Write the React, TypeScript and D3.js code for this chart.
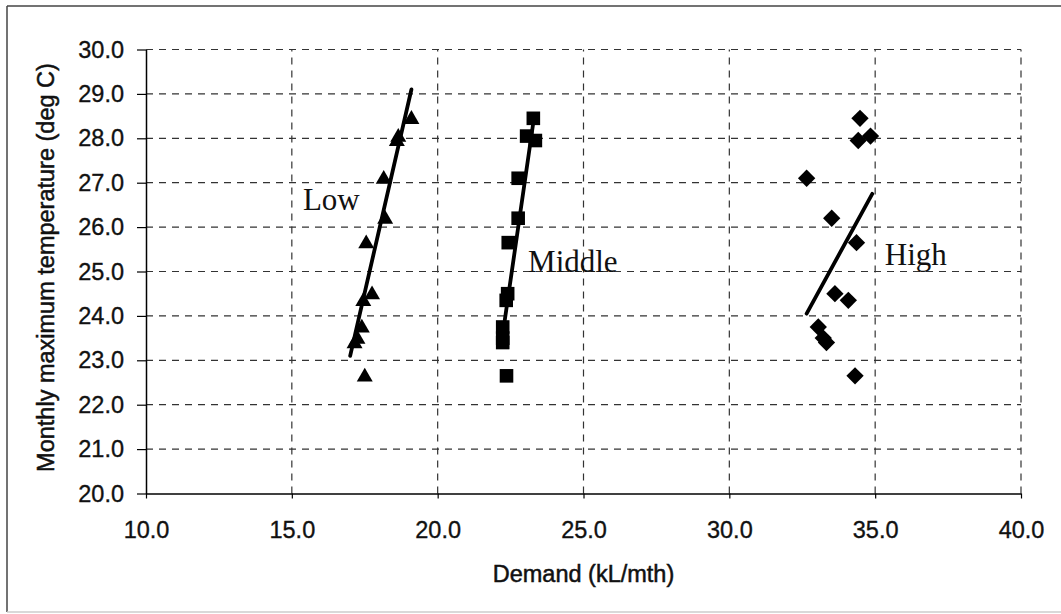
import { useEffect, useRef } from "react";
import * as d3 from "d3";

// monthly max temperature (deg C), shared by the three demand groups
const temps = [28.45, 28.05, 27.95, 27.1, 26.2, 25.65, 24.5, 24.35, 23.75, 23.5, 23.4, 22.65];
const lowDemand = [19.1, 18.65, 18.6, 18.15, 18.2, 17.55, 17.75, 17.45, 17.4, 17.25, 17.15, 17.5];
const middleDemand = [23.28, 23.05, 23.35, 22.76, 22.76, 22.42, 22.4, 22.35, 22.23, 22.23, 22.23, 22.36];
const highDemand = [34.48, 34.84, 34.42, 32.65, 33.51, 34.36, 33.62, 34.08, 33.05, 33.22, 33.33, 34.31];

// trend line end points
const lowTrendDemand = [17.0, 19.1];
const lowTrendTemp = [23.1, 29.1];
const middleTrendDemand = [22.3, 23.3];
const middleTrendTemp = [23.9, 28.45];
const highTrendDemand = [32.65, 34.9];
const highTrendTemp = [24.05, 26.75];

const labelNames = ["Low", "Middle", "High"];
const labelDemand = [15.38, 23.1, 35.33];
const labelTemp = [26.38, 24.99, 25.15];

const xTicks = [10, 15, 20, 25, 30, 35, 40];
const yTicks = [20, 21, 22, 23, 24, 25, 26, 27, 28, 29, 30];

const W = 1061;
const H = 614;

const Chart = () => {
    const svgRef = useRef<SVGSVGElement>(null);

    useEffect(() => {
        const svg = d3.select(svgRef.current);
        svg.selectAll("*").remove();

        const x = d3.scaleLinear().domain([10, 40]).range([146, 1021]);
        const y = d3.scaleLinear().domain([20, 30]).range([493.5, 49.5]);
        const fmt = d3.format(".1f");
        const sans = "Liberation Sans, Arial, sans-serif";

        svg.append("rect").attr("width", W).attr("height", H).attr("fill", "#fff");

        // outer frame
        svg.append("line").attr("x1", 7).attr("x2", W).attr("y1", 6).attr("y2", 6)
            .attr("stroke", "#444").attr("stroke-width", 1.5);
        svg.append("line").attr("x1", 7).attr("x2", 7).attr("y1", 6).attr("y2", 612)
            .attr("stroke", "#444").attr("stroke-width", 1.5);
        svg.append("line").attr("x1", 7).attr("x2", W).attr("y1", 612).attr("y2", 612)
            .attr("stroke", "#ccc").attr("stroke-width", 1.5);

        // grid
        const grid = svg.append("g").attr("stroke", "#333").attr("stroke-width", 1.2)
            .attr("stroke-dasharray", "7,6");
        grid.selectAll("line.h").data(yTicks.slice(1)).join("line")
            .attr("x1", x(10)).attr("x2", x(40))
            .attr("y1", d => y(d)).attr("y2", d => y(d));
        grid.selectAll("line.v").data(xTicks.slice(1)).join("line")
            .attr("y1", y(20)).attr("y2", y(30))
            .attr("x1", d => x(d)).attr("x2", d => x(d));

        // axes
        const yAxis = svg.append("g")
            .attr("transform", `translate(${x(10)},0)`)
            .call(d3.axisLeft(y).tickValues(yTicks).tickFormat(d => fmt(d as number))
                .tickSize(9).tickSizeOuter(0).tickPadding(13));
        const xAxis = svg.append("g")
            .attr("transform", `translate(0,${y(20)})`)
            .call(d3.axisBottom(x).tickValues(xTicks).tickFormat(d => fmt(d as number))
                .tickSize(5).tickSizeOuter(0).tickPadding(23));
        [yAxis, xAxis].forEach(a => {
            a.select(".domain").attr("stroke", "#000").attr("stroke-width", 1.5);
            a.selectAll(".tick line").attr("stroke", "#000").attr("stroke-width", 1.2);
            a.selectAll("text").attr("fill", "#111")
                .attr("stroke", "#111").attr("stroke-width", 0.35)
                .attr("font-family", sans).attr("font-size", 23.5);
        });

        // axis titles
        svg.append("text")
            .attr("x", (x(10) + x(40)) / 2).attr("y", 582)
            .attr("text-anchor", "middle")
            .attr("font-family", sans).attr("font-size", 23.5)
            .attr("fill", "#111").attr("stroke", "#111").attr("stroke-width", 0.5)
            .text("Demand (kL/mth)");
        svg.append("text")
            .attr("transform", `translate(54,${(y(20) + y(30)) / 2 - 4}) rotate(-90)`)
            .attr("text-anchor", "middle")
            .attr("font-family", sans).attr("font-size", 23.5)
            .attr("fill", "#111").attr("stroke", "#111").attr("stroke-width", 0.5)
            .text("Monthly maximum temperature (deg C)");

        // trend lines
        const line = d3.line<[number, number]>().x(d => x(d[0])).y(d => y(d[1]));
        const trends: [number[], number[]][] = [
            [lowTrendDemand, lowTrendTemp],
            [middleTrendDemand, middleTrendTemp],
            [highTrendDemand, highTrendTemp],
        ];
        trends.forEach(([dx, ty]) => {
            svg.append("path")
                .datum(dx.map((v, i) => [v, ty[i]] as [number, number]))
                .attr("fill", "none").attr("stroke", "#000").attr("stroke-width", 3.8)
                .attr("stroke-linecap", "round")
                .attr("d", line);
        });

        // markers
        const series: { demand: number[]; symbol: d3.SymbolType; size: number; rot: number; dy: number }[] = [
            { demand: lowDemand, symbol: d3.symbolTriangle, size: 110, rot: 0, dy: 1 },
            { demand: middleDemand, symbol: d3.symbolSquare, size: 185, rot: 0, dy: 0 },
            { demand: highDemand, symbol: d3.symbolSquare, size: 150, rot: 45, dy: 0 },
        ];
        series.forEach(s => {
            const path = d3.symbol().type(s.symbol).size(s.size)();
            svg.append("g").selectAll("path").data(s.demand).join("path")
                .attr("d", path)
                .attr("fill", "#000")
                .attr("transform", (d, i) => `translate(${x(d)},${y(temps[i]) + s.dy}) rotate(${s.rot})`);
        });

        // group labels
        svg.append("g").selectAll("text").data(labelNames).join("text")
            .attr("x", (d, i) => x(labelDemand[i]))
            .attr("y", (d, i) => y(labelTemp[i]))
            .attr("font-family", "Liberation Serif, Times New Roman, serif")
            .attr("font-size", 31)
            .attr("fill", "#111")
            .text(d => d);
    }, []);

    return <svg ref={svgRef} width={W} height={H} style={{ position: "absolute", left: 0, top: 0 }} />;
};

export default function App() {
    return (
        <div>
            <Chart />
        </div>
    );
}
